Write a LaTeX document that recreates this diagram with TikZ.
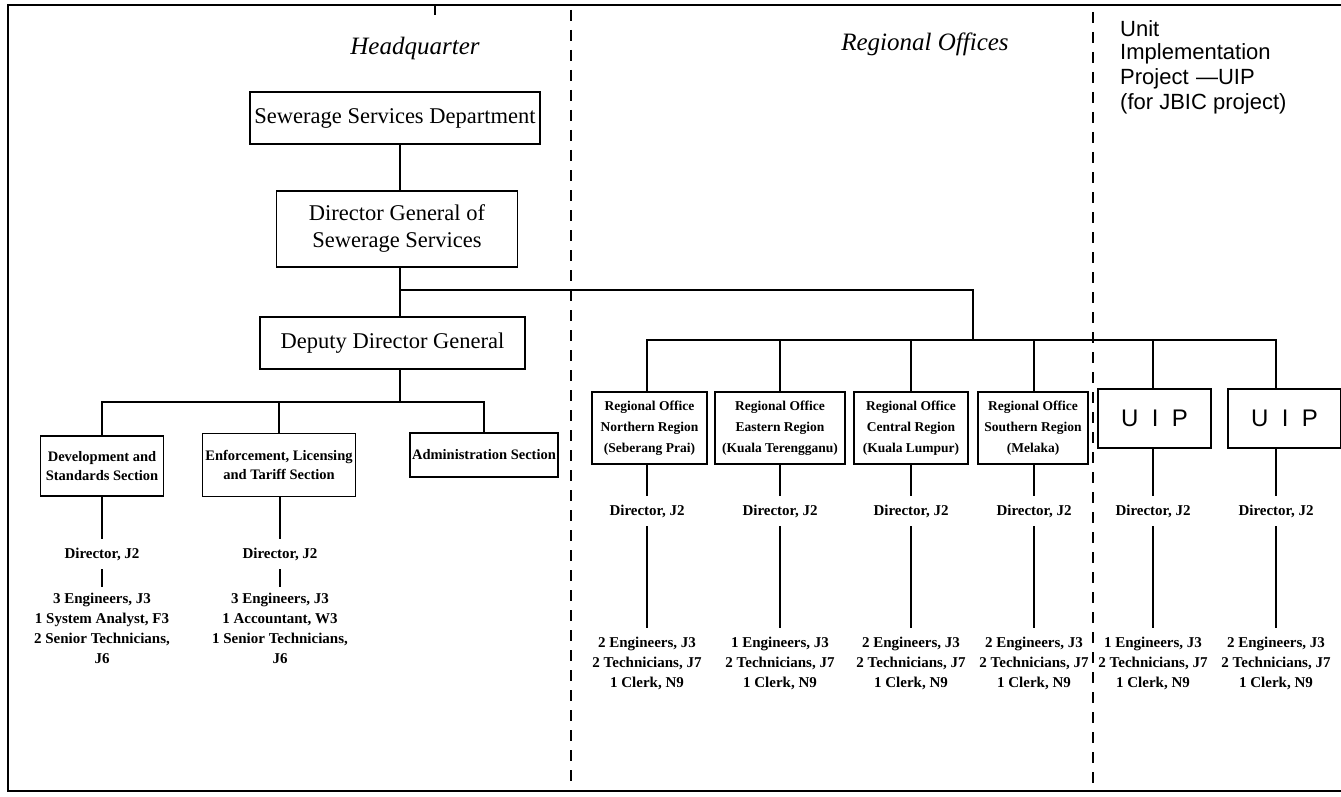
\documentclass[tikz,border=0pt]{standalone}
\usepackage{fontspec}
\setmainfont{Liberation Serif}
\newfontfamily\handfont{Liberation Sans}
\begin{document}
\begin{tikzpicture}[x=1pt,y=-1pt,
  box/.style={draw, line width=1.4pt, align=center, inner sep=1pt},
  big/.style={font=\fontsize{22.5}{27}\selectfont},
  sect/.style={font=\bfseries\fontsize{14.5}{19}\selectfont},
  reg/.style={font=\bfseries\fontsize{13.5}{21}\selectfont, minimum height=72},
  uip/.style={font=\handfont\fontsize{24}{28}\selectfont, minimum width=113, minimum height=59},
  lbl/.style={align=center, inner sep=0pt, font=\bfseries\fontsize{15}{20}\selectfont},
  conn/.style={line width=1.6pt},
  divider/.style={line width=2pt, dash pattern=on 11pt off 9pt},
  heading/.style={font=\itshape\fontsize{25}{30}\selectfont},
  hand/.style={font=\handfont\fontsize{22}{26}\selectfont, anchor=west, inner sep=0pt}
]
\useasboundingbox (0,0) rectangle (1341,797);
% frame
\draw[line width=1.5pt] (1341,5) -- (8,5) -- (8,791) -- (1341,791);
\draw[line width=1.5pt] (435,5) -- (435,15);
% dividers
\draw[divider] (571,10) -- (571,790);
\draw[divider] (1093,12) -- (1093,785);
% headings
\node[heading] (hq) at (415,48) {Headquarter};
\node[heading] (ro) at (925,44) {Regional Offices};
\node[hand] (n1) at (1120,29) {Unit};
\node[hand] (n2) at (1120,54) {Implementation};
\node[hand] (n3) at (1120,79) {Project\,\,—UIP};
\node[hand] (n4) at (1120,104) {(for JBIC project)};
% headquarter chain
\node[box,big,minimum width=290,minimum height=52] (ssd) at (395,118) {Sewerage Services Department};
\node[box,big,minimum width=241,minimum height=76] (dg) at (397,229) {Director General of\\Sewerage Services};
\node[box,big,minimum width=265,minimum height=52] (ddg) at (392.5,343) {Deputy Director General};
\coordinate (j1) at (400,290);
\coordinate (j2) at (973,290);
\coordinate (rb) at (973,340);
\coordinate (sb) at (400,402);
\draw[conn] (ssd.south -| j1) -- (dg.north -| j1);
\draw[conn] (dg.south -| j1) -- (ddg.north -| j1);
\draw[conn] (j1) -- (j2) -- (rb);
\draw[conn] (ddg.south -| sb) -- (sb);
% sections
\node[box,sect,minimum width=123,minimum height=60] (dev) at (102,466) {Development and\\Standards Section};
\node[box,sect,minimum width=153,minimum height=63] (enf) at (279,465) {Enforcement, Licensing\\and Tariff Section};
\node[box,sect,minimum width=148,minimum height=44] (adm) at (484,455) {Administration Section};
\draw[conn] (dev.north) |- (sb) -| (adm.north);
\draw[conn] (enf.north) -- (enf.north |- sb);
\node[lbl,minimum height=30] (dd) at (102,554) {Director, J2};
\node[lbl,minimum height=30] (de) at (280,554) {Director, J2};
\draw[conn] (dev.south -| dd) -- (dd.north);
\draw[conn] (enf.south -| de) -- (de.north);
\node[lbl,minimum height=83] (sd) at (102,628.5) {3 Engineers, J3\\1 System Analyst, F3\\2 Senior Technicians,\\J6};
\node[lbl,minimum height=83] (se) at (280,628.5) {3 Engineers, J3\\1 Accountant, W3\\1 Senior Technicians,\\J6};
\draw[conn] (dd.south) -- (sd.north);
\draw[conn] (de.south) -- (se.north);
% regional offices
\node[box,reg,minimum width=115] (rn) at (649.5,428) {Regional Office\\Northern Region\\(Seberang Prai)};
\node[box,reg,minimum width=130] (re) at (780,428) {Regional Office\\Eastern Region\\(Kuala Terengganu)};
\node[box,reg,minimum width=114] (rc) at (911,428) {Regional Office\\Central Region\\(Kuala Lumpur)};
\node[box,reg,minimum width=110] (rs) at (1033,428) {Regional Office\\Southern Region\\(Melaka)};
\node[box,uip] (u1) at (1154.5,418.5) {U\ \ I\ \ P};
\node[box,uip] (u2) at (1284.5,418.5) {U\ \ I\ \ P};
% directors
\foreach \n/\x in {rn/647,re/780,rc/911,rs/1034,u1/1153,u2/1276}{
  \node[lbl,minimum height=30] (d\n) at (\x,511) {Director, J2};
}
\draw[conn] (drn.north |- rn.north) -- (drn.north |- rb) -- (du2.north |- rb) -- (du2.north |- u2.north);
\foreach \n in {re,rc,rs,u1}{
  \draw[conn] (d\n.north |- \n.north) -- (d\n.north |- rb);
}
\foreach \n in {rn,re,rc,rs,u1,u2}{
  \draw[conn] (d\n.north |- \n.south) -- (d\n.north);
}
% staff
\node[lbl,minimum height=70] (srn) at (647,663) {2 Engineers, J3\\2 Technicians, J7\\1 Clerk, N9};
\node[lbl,minimum height=70] (sre) at (780,663) {1 Engineers, J3\\2 Technicians, J7\\1 Clerk, N9};
\node[lbl,minimum height=70] (src) at (911,663) {2 Engineers, J3\\2 Technicians, J7\\1 Clerk, N9};
\node[lbl,minimum height=70] (srs) at (1034,663) {2 Engineers, J3\\2 Technicians, J7\\1 Clerk, N9};
\node[lbl,minimum height=70] (su1) at (1153,663) {1 Engineers, J3\\2 Technicians, J7\\1 Clerk, N9};
\node[lbl,minimum height=70] (su2) at (1276,663) {2 Engineers, J3\\2 Technicians, J7\\1 Clerk, N9};
\foreach \n in {rn,re,rc,rs,u1,u2}{
  \draw[conn] (d\n.south) -- (s\n.north);
}
\end{tikzpicture}
\end{document}
